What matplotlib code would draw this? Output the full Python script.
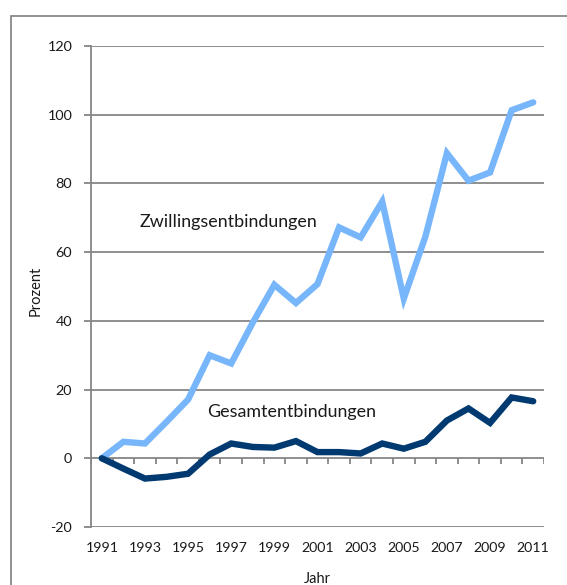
import numpy as np
import matplotlib
matplotlib.use('Agg')
import matplotlib.pyplot as plt
from matplotlib.patches import Rectangle

plt.rcParams['font.family'] = ['Lato', 'DejaVu Sans']

# Data (change against 1991, in percent)
years = list(range(1991, 2012))
zwillinge = [0, 4.8, 4.3, 10.6, 17.1, 30.0, 27.6, 39.5, 50.5, 45.2, 50.7,
             67.2, 64.3, 74.7, 46.5, 64.5, 88.8, 80.8, 83.2, 101.3, 103.6]
gesamt = [0, -3.0, -5.9, -5.4, -4.5, 1.1, 4.3, 3.3, 3.1, 5.0, 1.8,
          1.8, 1.4, 4.3, 2.8, 4.8, 11.0, 14.5, 10.3, 17.7, 16.6]
yticks = [-20, 0, 20, 40, 60, 80, 100, 120]

LIGHT = '#78b6fc'
DARK = '#003a70'
GRID = '#868686'

fig = plt.figure(figsize=(5.67, 5.85), dpi=100)
ax = fig.add_axes([91/567, 58/585, 453/567, 481/585])

x = np.arange(len(years))

# frame around the chart
fig.patches.append(Rectangle((11/567, -0.2), 1.2, 1.2 - 16/585,
                             transform=fig.transFigure, fill=False,
                             edgecolor='#7f7f7f', linewidth=1.2))

# horizontal gridlines
for v in yticks:
    ax.axhline(v, color=GRID, linewidth=1.3, zorder=1)

# category axis crossing at 0 with tick marks between years
ax.vlines(np.arange(-0.5, len(years)), -1.7, 0, color=GRID, linewidth=1.3, zorder=1)

ax.plot(x, zwillinge, color=LIGHT, linewidth=4.6, solid_capstyle='round',
        solid_joinstyle='miter', zorder=3)
ax.plot(x, gesamt, color=DARK, linewidth=4.6, solid_capstyle='round',
        solid_joinstyle='miter', zorder=3)

ax.text(1.77, 68.7, 'Zwillingsentbindungen', fontsize=12.9, color='#1a1a1a',
        va='center', ha='left')
ax.text(4.9, 13.4, 'Gesamtentbindungen', fontsize=12.9, color='#1a1a1a',
        va='center', ha='left')

ax.set_xlim(-0.5, len(years) - 0.5)
ax.set_ylim(-20, 120)
ax.set_yticks(yticks)
ax.set_yticklabels([str(v) for v in yticks])
ax.set_xticks(x[::2])
ax.set_xticklabels([str(y) for y in years[::2]])

for s in ['top', 'right', 'bottom']:
    ax.spines[s].set_visible(False)
ax.spines['left'].set_color(GRID)
ax.spines['left'].set_linewidth(1.3)
ax.tick_params(axis='y', length=5, width=1.3, color=GRID, labelsize=10.4,
               pad=8.5, labelcolor='#1a1a1a')
ax.tick_params(axis='x', length=0, labelsize=10.2, pad=11, labelcolor='#1a1a1a')

ax.set_ylabel('Prozent', fontsize=10.5, color='#1a1a1a')
ax.yaxis.set_label_coords(-0.106, 0.49)
ax.set_xlabel('Jahr', fontsize=10.5, labelpad=13, color='#1a1a1a')

fig.savefig('out.png', dpi=100)
